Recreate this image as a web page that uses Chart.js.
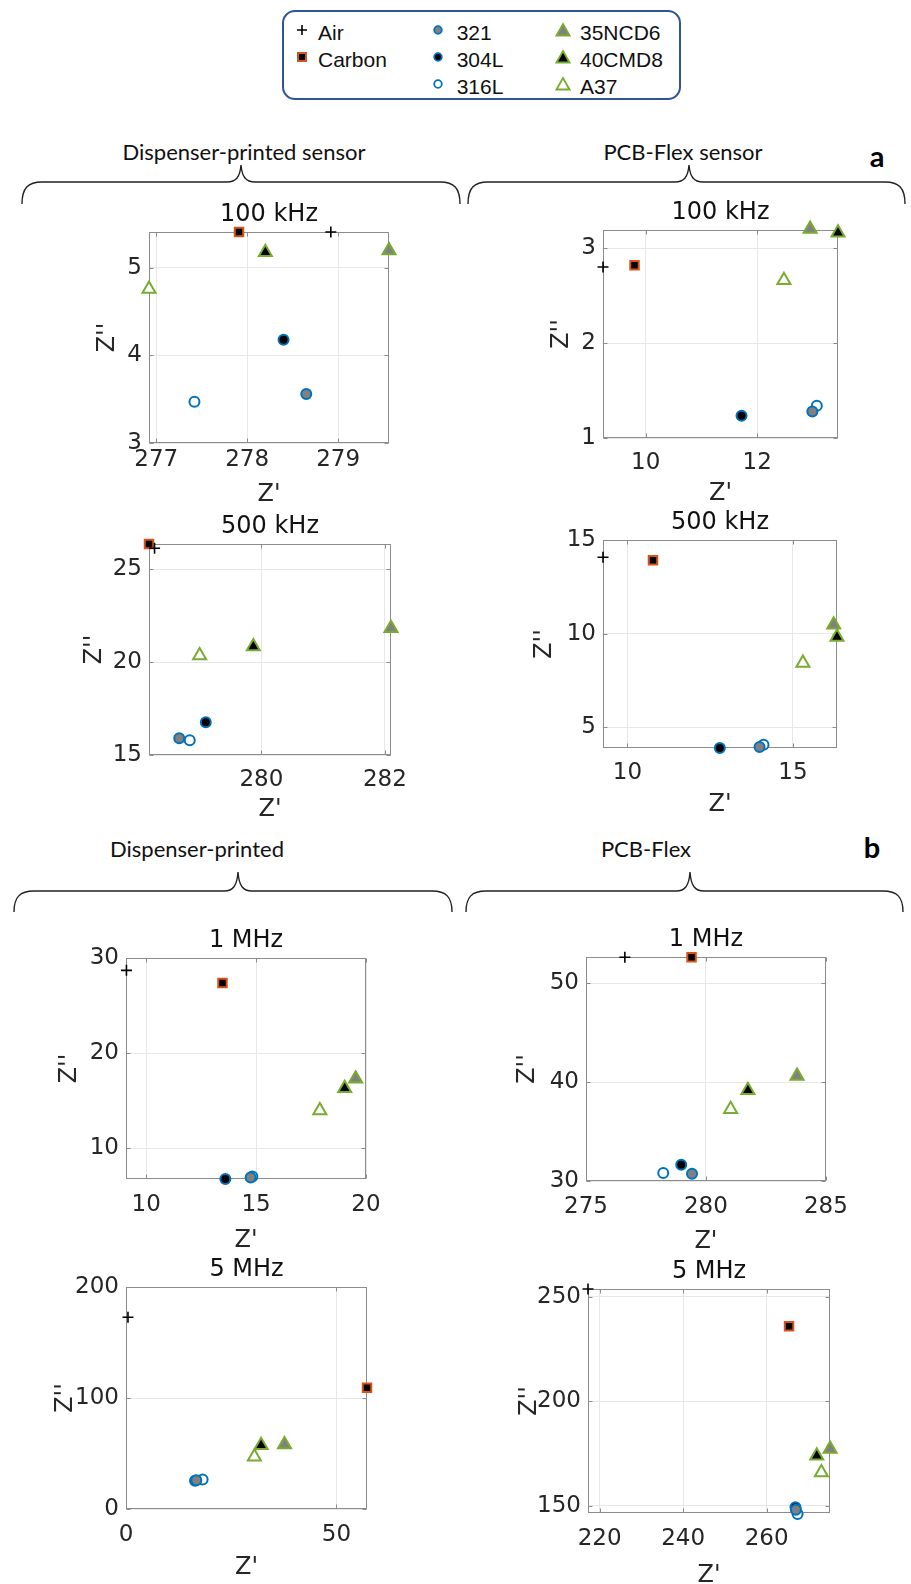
<!DOCTYPE html>
<html>
<head>
<meta charset="utf-8">
<script src="https://cdn.jsdelivr.net/npm/chart.js@4.4.1/dist/chart.umd.min.js"></script>
<style>
html,body{margin:0;padding:0;background:#fff;}
body{width:911px;height:1584px;position:relative;overflow:hidden;font-family:'Liberation Sans',Arial,sans-serif;}
canvas.plot{position:absolute;}
#braces{position:absolute;left:0;top:0;}
.lbl{position:absolute;font-family:Lato,'Open Sans',sans-serif;font-size:22px;color:#111;white-space:nowrap;transform:translate(-50%,-50%);line-height:1;}
.tag{position:absolute;font-family:Lato,'Open Sans',sans-serif;font-weight:bold;font-size:29px;color:#000;transform:translate(-50%,-50%);line-height:1;}
#legend{position:absolute;left:282px;top:10px;width:399px;height:90px;border:2px solid #2f5597;border-radius:13px;box-sizing:border-box;}
.li{position:absolute;font-size:21px;color:#111;line-height:1;transform:translateY(-50%);white-space:nowrap;}
.lm{position:absolute;transform:translate(-50%,-50%);}
</style>
</head>
<body>
<svg id="braces" width="911" height="1584"></svg>
<div id="legend"></div>
<div class="lbl" style="left:244px;top:152px;">Dispenser-printed sensor</div>
<div class="lbl" style="left:683px;top:152px;">PCB-Flex sensor</div>
<div class="tag" style="left:877px;top:155px;">a</div>
<div class="lbl" style="left:197px;top:849px;">Dispenser-printed</div>
<div class="lbl" style="left:646px;top:849px;">PCB-Flex</div>
<div class="tag" style="left:872px;top:846px;">b</div>
<script>
// ---------------- DATA ----------------
const materials = ['Air', 'Carbon', '321', '304L', '316L', '35NCD6', '40CMD8', 'A37'];
const panelTitles = ['100 kHz', '100 kHz', '500 kHz', '500 kHz', '1 MHz', '1 MHz', '5 MHz', '5 MHz'];
const xAxisLabel = "Z'";
const yAxisLabel = "Z''";

// Z' (real part) and Z'' (imaginary part), one value per material (order = materials)
const re_dp_100k  = [278.92, 277.91, 278.65, 278.40, 277.42, 279.56, 278.20, 276.92];
const im_dp_100k  = [5.41, 5.41, 3.56, 4.18, 3.47, 5.20, 5.18, 4.76];
const re_pcb_100k = [9.235, 9.80, 12.99, 11.72, 13.07, 12.95, 13.45, 12.48];
const im_pcb_100k = [2.80, 2.82, 1.28, 1.235, 1.34, 3.20, 3.16, 2.66];
const re_dp_500k  = [278.27, 278.18, 278.67, 279.10, 278.84, 282.10, 279.87, 279.00];
const im_dp_500k  = [26.13, 26.36, 15.90, 16.76, 15.79, 21.83, 20.84, 20.36];
const re_pcb_500k = [9.26, 10.77, 13.99, 12.79, 14.11, 16.23, 16.33, 15.30];
const im_pcb_500k = [14.08, 13.92, 3.95, 3.90, 4.07, 10.48, 9.82, 8.44];
const re_dp_1M    = [9.10, 13.47, 14.75, 13.60, 14.83, 19.53, 19.03, 17.90];
const im_dp_1M    = [28.7, 27.37, 6.90, 6.74, 7.00, 17.30, 16.30, 13.96];
const re_pcb_1M   = [276.62, 279.40, 279.42, 278.97, 278.22, 283.80, 281.75, 281.03];
const im_pcb_1M   = [52.6, 52.6, 30.74, 31.65, 30.80, 40.60, 39.16, 37.24];
const re_dp_5M    = [0.47, 57.26, 16.7, 16.4, 18.2, 37.66, 32.1, 30.5];
const im_dp_5M    = [172.7, 109.3, 25.8, 25.5, 26.5, 58.0, 57.4, 47.1];
const re_pcb_5M   = [217.2, 265.36, 267.0, 266.9, 267.4, 275.2, 272.0, 273.1];
const im_pcb_5M   = [253.8, 236.0, 148.0, 149.2, 146.0, 177.1, 173.9, 165.9];

// axis limits and tick steps per panel
const xMin  = [276.92, 9.235, 278.18, 9.26, 9.08, 275, 0, 217.2];
const xMax  = [279.56, 13.45, 282.1, 16.33, 20, 285, 57.26, 275.17];
const xStep = [1, 2, 2, 5, 5, 5, 50, 20];
const yMin  = [3, 1, 15, 3.9, 6.74, 30, 0, 146.5];
const yMax  = [5.41, 3.19, 26.36, 15, 30, 52.63, 200, 253.8];
const yStep = [1, 1, 5, 5, 10, 10, 100, 50];

const panelRe = [re_dp_100k, re_pcb_100k, re_dp_500k, re_pcb_500k, re_dp_1M, re_pcb_1M, re_dp_5M, re_pcb_5M];
const panelIm = [im_dp_100k, im_pcb_100k, im_dp_500k, im_pcb_500k, im_dp_1M, im_pcb_1M, im_dp_5M, im_pcb_5M];

// ---------------- LAYOUT / STYLE ----------------
const plotBoxes = [
  [149, 231.7, 389, 442.3], [602.7, 230, 837.3, 438.3],
  [149.3, 544, 391, 755.3], [603.3, 540, 837.3, 748.3],
  [125.7, 958, 366, 1179.3], [585.7, 956.7, 829.3, 1180.7],
  [126, 1287.3, 367.3, 1509.3], [588.3, 1288.7, 830.7, 1512.3]
];
const yTitleGap = [41, 41, 54, 58, 56, 58, 60, 58];
const xTitleGap = [52, 56, 55, 57, 62, 61, 59, 63];
const xTickGap  = [17, 25, 25, 25, 26, 26, 26, 26];
const titleGap = 17.5;

const BLUE = '#0072BD', ORANGE = '#D95319', GREEN = '#77AC30', GRAY = '#808080';
const markerStyle = {
  'Air':    {ps: 'cross',    r: 5.5, bg: '#000',  bc: '#000',  bw: 1.6},
  'Carbon': {ps: 'rect',     r: 6,   bg: '#000',  bc: ORANGE, bw: 2},
  '321':    {ps: 'circle',   r: 5,   bg: GRAY,    bc: BLUE,   bw: 2},
  '304L':   {ps: 'circle',   r: 5,   bg: '#000',  bc: BLUE,   bw: 2},
  '316L':   {ps: 'circle',   r: 5,   bg: '#fff',  bc: BLUE,   bw: 2},
  '35NCD6': {ps: 'triangle', r: 7.5, bg: GRAY,    bc: GREEN,  bw: 2},
  '40CMD8': {ps: 'triangle', r: 7.5, bg: '#000',  bc: GREEN,  bw: 2},
  'A37':    {ps: 'triangle', r: 7.5, bg: '#fff',  bc: GREEN,  bw: 2}
};

const FONT = "'DejaVu Sans', 'Liberation Sans', Arial, sans-serif";
const TICK_SIZE = 23, TITLE_SIZE = 24, AXT_SIZE = 24;
const L = 80, R = 30, T = 42, B = 85;

const boxPlugin = {
  id: 'matlabBox',
  beforeDatasetsDraw(chart) {
    const {ctx, chartArea: a, scales: {x, y}} = chart;
    const l = Math.round(a.left) + 0.5, r = Math.round(a.right) - 0.5;
    const t = Math.round(a.top) + 0.5, b = Math.round(a.bottom) - 0.5;
    ctx.save();
    ctx.strokeStyle = '#8c8c8c';
    ctx.lineWidth = 1;
    ctx.strokeRect(l, t, r - l, b - t);
    ctx.beginPath();
    x.ticks.forEach(tk => {
      const px = Math.round(x.getPixelForValue(tk.value)) + 0.5;
      ctx.moveTo(px, b); ctx.lineTo(px, b - 4);
      ctx.moveTo(px, t); ctx.lineTo(px, t + 4);
    });
    y.ticks.forEach(tk => {
      const py = Math.round(y.getPixelForValue(tk.value)) + 0.5;
      ctx.moveTo(l, py); ctx.lineTo(l + 4, py);
      ctx.moveTo(r, py); ctx.lineTo(r - 4, py);
    });
    ctx.stroke();
    ctx.restore();
  }
};

panelTitles.forEach((title, i) => {
  const [pl, pt, pr, pb] = plotBoxes[i];
  const cv = document.createElement('canvas');
  cv.className = 'plot';
  const w = Math.round(pr - pl + L + R), h = Math.round(pb - pt + T + B);
  const left = pl - L, top = pt - T;
  cv.width = w; cv.height = h;
  cv.style.left = left + 'px'; cv.style.top = top + 'px';
  cv.style.width = w + 'px'; cv.style.height = h + 'px';
  document.body.appendChild(cv);

  const titleLH = TITLE_SIZE * 1.2, axLH = AXT_SIZE * 1.2, tickLH = TICK_SIZE * 1.2;
  const tPadTop = T - titleGap - titleLH / 2;
  const tPadBot = T - titleLH - tPadTop;

  const datasets = materials.map((m, j) => {
    const s = markerStyle[m];
    return {
      label: m,
      data: [{x: panelRe[i][j], y: panelIm[i][j]}],
      pointStyle: s.ps, pointRadius: s.r, pointHoverRadius: s.r,
      backgroundColor: s.bg, borderColor: s.bc, borderWidth: s.bw,
      pointBackgroundColor: s.bg, pointBorderColor: s.bc, pointBorderWidth: s.bw,
      clip: false
    };
  });

  new Chart(cv.getContext('2d'), {
    type: 'scatter',
    data: {datasets},
    options: {
      responsive: false, animation: false, devicePixelRatio: window.devicePixelRatio || 1,
      layout: {autoPadding: false, padding: {left: 0, right: R, top: 0, bottom: 0}},
      plugins: {
        legend: {display: false}, tooltip: {enabled: false},
        title: {display: true, text: title, fullSize: false, color: '#111',
          font: {family: FONT, size: TITLE_SIZE, weight: 'normal', lineHeight: 1.2},
          padding: {top: tPadTop, bottom: tPadBot}}
      },
      scales: {
        x: {
          type: 'linear', position: 'bottom', min: xMin[i], max: xMax[i],
          afterFit(s) { s.height = B; },
          ticks: {stepSize: xStep[i], includeBounds: false, autoSkip: false, maxRotation: 0,
            padding: xTickGap[i] - tickLH / 2, color: '#262626',
            font: {family: FONT, size: TICK_SIZE, lineHeight: 1.2}},
          grid: {color: '#e8e8e8', drawTicks: false, lineWidth: 1},
          border: {display: false},
          title: {display: true, text: xAxisLabel, color: '#262626',
            font: {family: FONT, size: AXT_SIZE, lineHeight: 1.2},
            padding: {top: 0, bottom: B - xTitleGap[i] - axLH / 2}}
        },
        y: {
          type: 'linear', position: 'left', min: yMin[i], max: yMax[i],
          afterFit(s) { s.width = L; },
          ticks: {stepSize: yStep[i], includeBounds: false, autoSkip: false,
            padding: 7, color: '#262626',
            font: {family: FONT, size: TICK_SIZE, lineHeight: 1.2}},
          grid: {color: '#e8e8e8', drawTicks: false, lineWidth: 1},
          border: {display: false},
          title: {display: true, text: yAxisLabel, color: '#262626',
            font: {family: FONT, size: AXT_SIZE, lineHeight: 1.2},
            padding: {top: L - yTitleGap[i] - axLH / 2, bottom: 0}}
        }
      }
    },
    plugins: [boxPlugin]
  });
});

// ---------------- BRACES ----------------
function bracePath(x1, x2, xc, yEnd, yLine, yTip) {
  return `M${x1},${yEnd} C${x1},${yLine + 6} ${x1 + 6},${yLine} ${x1 + 20},${yLine} ` +
         `L${xc - 14},${yLine} C${xc - 5},${yLine} ${xc - 1},${yLine - 5} ${xc},${yTip} ` +
         `C${xc + 1},${yLine - 5} ${xc + 5},${yLine} ${xc + 14},${yLine} ` +
         `L${x2 - 20},${yLine} C${x2 - 6},${yLine} ${x2},${yLine + 6} ${x2},${yEnd}`;
}
const braceDefs = [
  [22, 460, 241, 204, 182, 165],
  [468, 905, 689, 204, 182, 165],
  [14, 452, 238, 912, 891, 872],
  [466, 903, 690, 912, 891, 872]
];
const svg = document.getElementById('braces');
svg.innerHTML = braceDefs.map(d =>
  `<path d="${bracePath(...d)}" fill="none" stroke="#222" stroke-width="1.4"/>`).join('');

// ---------------- LEGEND ----------------
const legendCols = [['Air', 'Carbon'], ['321', '304L', '316L'], ['35NCD6', '40CMD8', 'A37']];
const legendMarkerX = [301.7, 438, 562.7];
const legendTextX = [318, 456.7, 580];
const legendRowY = [31.7, 59.3, 86];
function legendMarker(m) {
  const s = markerStyle[m];
  let inner = '';
  if (s.ps === 'cross') inner = `<path d="M3,8H13M8,3V13" stroke="#000" stroke-width="1.6"/>`;
  else if (s.ps === 'rect') inner = `<rect x="4" y="4" width="8" height="8" fill="${s.bg}" stroke="${s.bc}" stroke-width="2"/>`;
  else if (s.ps === 'circle') inner = `<circle cx="8" cy="8" r="3.8" fill="${s.bg}" stroke="${s.bc}" stroke-width="1.8"/>`;
  else inner = `<polygon points="8,2 14.5,13.5 1.5,13.5" fill="${s.bg}" stroke="${s.bc}" stroke-width="1.8"/>`;
  return `<svg width="16" height="16" viewBox="0 0 16 16">${inner}</svg>`;
}
let lh = '';
legendCols.forEach((col, c) => {
  col.forEach((m, r) => {
    lh += `<div class="lm" style="left:${legendMarkerX[c]}px;top:${legendRowY[r]}px;">${legendMarker(m)}</div>`;
    lh += `<div class="li" style="left:${legendTextX[c]}px;top:${legendRowY[r]}px;">${m}</div>`;
  });
});
const holder = document.createElement('div');
holder.innerHTML = lh;
document.body.appendChild(holder);
</script>
</body>
</html>
